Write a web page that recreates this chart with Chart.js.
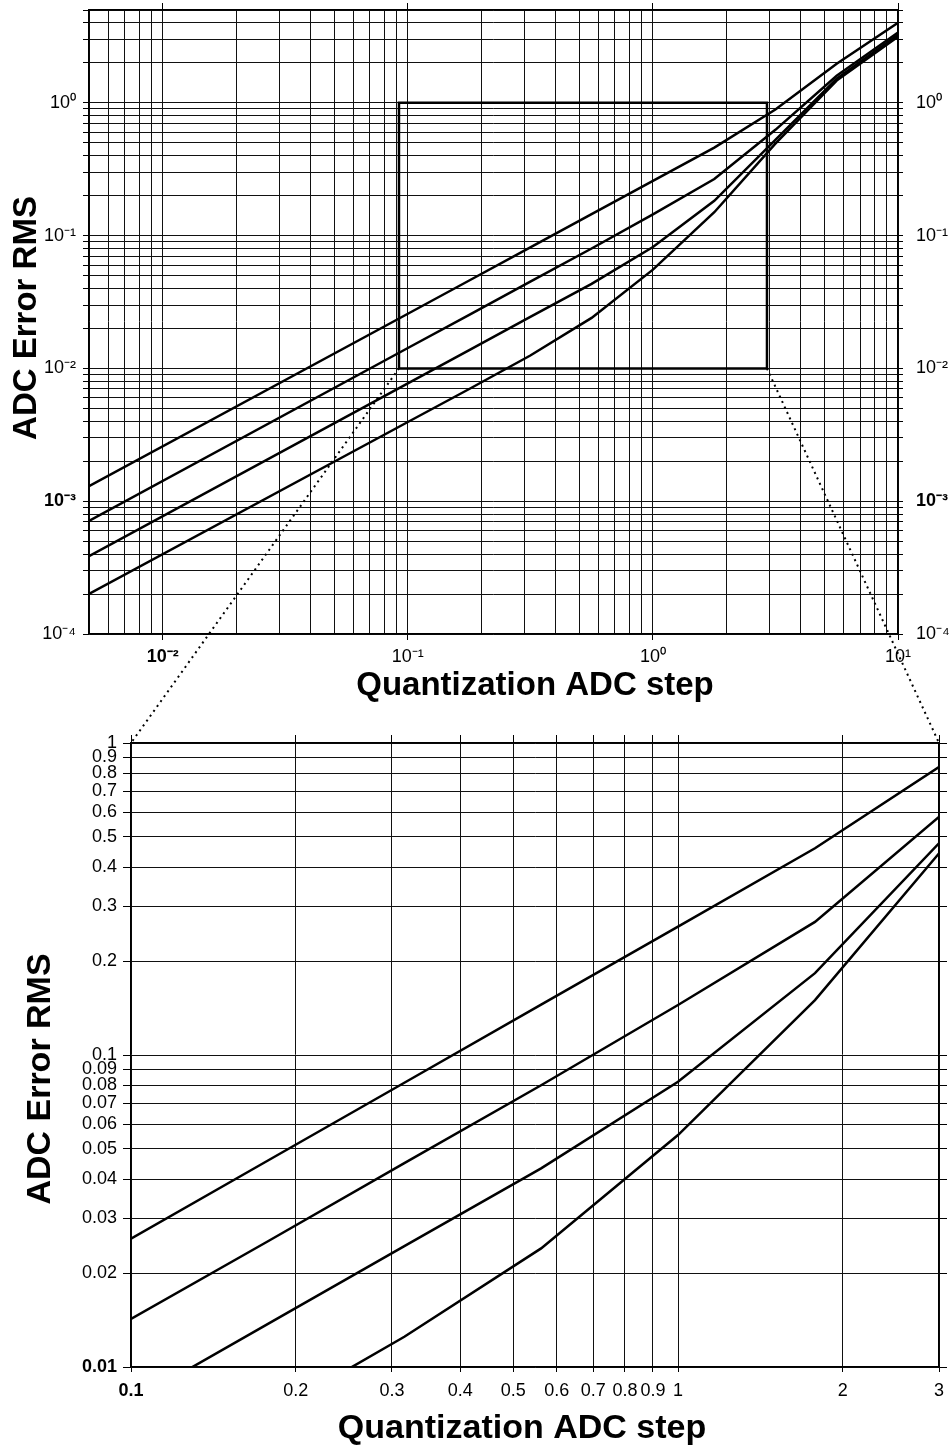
<!DOCTYPE html>
<html>
<head>
<meta charset="utf-8">
<script src="https://cdn.jsdelivr.net/npm/chart.js@4.4.1/dist/chart.umd.min.js"></script>
<style>
  html, body { margin: 0; padding: 0; background: #fff; }
  #wrap { position: relative; width: 951px; height: 1450px; }
  canvas { position: absolute; left: 0; }
  #topChart { top: 0; }
  #bottomChart { top: 720px; }
  #links { top: 0; pointer-events: none; }
</style>
</head>
<body>
<div id="wrap">
  <canvas id="topChart" width="951" height="720"></canvas>
  <canvas id="bottomChart" width="951" height="730"></canvas>
  <canvas id="links" width="951" height="1450"></canvas>
</div>
<script>
// quantization step (x) and RMS error of the four curves
var steps = [0.005, 0.1, 0.178, 0.316, 0.562, 1, 1.78, 3.16, 5.62, 10];
var errA = [0.00130, 0.0258, 0.0459, 0.0815, 0.145, 0.258, 0.460, 0.89, 1.97, 4.00];
var errB = [0.00071, 0.01425, 0.0253, 0.0450, 0.0800, 0.1446, 0.267, 0.626, 1.60, 3.38];
var errC = [0.000386, 0.00772, 0.01375, 0.0244, 0.0433, 0.0821, 0.183, 0.525, 1.52, 3.25];
var errD = [0.000200, 0.00395, 0.0070, 0.0125, 0.0240, 0.0554, 0.150, 0.493, 1.47, 3.15];

// zoom window drawn on the top plot
var zoomBoxX = [0.092, 0.092, 2.92, 2.92, 0.092];
var zoomBoxY = [0.01, 1, 1, 0.01, 0.01];

// axes
var topXRange = [0.005, 10];
var topYRange = [0.0001, 5];
var topXLabels = [0.01, 0.1, 1, 10];
var topYLabels = [0.0001, 0.001, 0.01, 0.1, 1];
var bottomXTicks = [0.1, 0.2, 0.3, 0.4, 0.5, 0.6, 0.7, 0.8, 0.9, 1, 2, 3];
var bottomYTicks = [0.01, 0.02, 0.03, 0.04, 0.05, 0.06, 0.07, 0.08, 0.09,
                    0.1, 0.2, 0.3, 0.4, 0.5, 0.6, 0.7, 0.8, 0.9, 1];

Chart.defaults.font.family = "'Liberation Sans', Arial, sans-serif";
Chart.defaults.color = '#000';

var gridColor = '#111';
var sup = { '-': '\u207B', '0': '\u2070', '1': '\u00B9', '2': '\u00B2', '3': '\u00B3', '4': '\u2074' };

function has(list, v) {
    return list.some(function(t) { return Math.abs(t - v) / t < 1e-6; });
}

// 1..9 x 10^n grid between min and max
function logGrid(min, max) {
    var out = [];
    for (var e = Math.floor(Math.log10(min)); e <= Math.ceil(Math.log10(max)); e++) {
        for (var m = 1; m <= 9; m++) {
            var v = parseFloat((m * Math.pow(10, e)).toPrecision(3));
            if (v >= min * 0.9999 && v <= max * 1.0001) out.push(v);
        }
    }
    return out;
}

function powLabel(v) {
    var e = String(Math.round(Math.log10(v)));
    return '10' + e.split('').map(function(ch) { return sup[ch]; }).join('');
}

function makeTitles(items) {
    return {
        id: 'axisTitles',
        afterDraw: function(chart) {
            var ctx = chart.ctx;
            items.forEach(function(t) {
                ctx.save();
                ctx.font = 'bold ' + t.size + "px 'Liberation Sans', Arial, sans-serif";
                ctx.fillStyle = '#000';
                ctx.textAlign = 'center';
                ctx.textBaseline = 'alphabetic';
                ctx.translate(t.x, t.y);
                if (t.rotate) ctx.rotate(t.rotate);
                ctx.fillText(t.text, 0, 0);
                ctx.restore();
            });
        }
    };
}

function series(ys) {
    return steps.map(function(x, i) { return { x: x, y: ys[i] }; });
}

function curveSets() {
    return [errA, errB, errC, errD].map(function(ys) {
        return { data: series(ys), borderColor: '#000', borderWidth: 2.5, pointRadius: 0, fill: false, tension: 0 };
    });
}

function logAxis(opts) {
    var tickValues = opts.ticks;
    var labelled = opts.labelled;
    return {
        type: 'logarithmic',
        position: opts.position,
        min: opts.min,
        max: opts.max,
        afterBuildTicks: function(scale) {
            scale.ticks = tickValues.map(function(v) { return { value: v, major: has(labelled, v) }; });
        },
        afterFit: function(scale) {
            if (opts.width !== undefined) scale.width = opts.width;
            if (opts.height !== undefined) scale.height = opts.height;
            scale.paddingLeft = scale.paddingRight = scale.paddingTop = scale.paddingBottom = 0;
        },
        border: { display: true, color: '#000', width: 1.5 },
        grid: {
            color: gridColor,
            lineWidth: 1,
            drawOnChartArea: opts.drawGrid,
            tickLength: opts.tickLength,
            tickColor: function(c) {
                if (opts.majorTicksOnly) return c.tick && c.tick.major ? '#000' : 'rgba(0,0,0,0)';
                return '#000';
            }
        },
        ticks: {
            display: opts.showLabels,
            autoSkip: false,
            maxRotation: 0,
            minRotation: 0,
            padding: opts.padding,
            font: function(c) {
                var b = c.tick && has(opts.bold || [], c.tick.value);
                return { size: 18, weight: b ? 'bold' : 'normal' };
            },
            callback: function(value) {
                if (!has(labelled, value)) return '';
                return opts.format(value);
            }
        }
    };
}

var topXGrid = logGrid(topXRange[0], topXRange[1]);
var topYGrid = logGrid(topYRange[0], topYRange[1]);

var topSets = curveSets();
topSets.push({
    data: zoomBoxX.map(function(x, i) { return { x: x, y: zoomBoxY[i] }; }),
    borderColor: '#000', borderWidth: 2.5, pointRadius: 0, fill: false, tension: 0
});

var topChart = new Chart(document.getElementById('topChart'), {
    type: 'line',
    data: { datasets: topSets },
    options: {
        responsive: false,
        animation: false,
        devicePixelRatio: 1,
        layout: { padding: 0 },
        plugins: { legend: { display: false }, tooltip: { enabled: false } },
        scales: {
            x: logAxis({ position: 'bottom', min: topXRange[0], max: topXRange[1], ticks: topXGrid,
                labelled: topXLabels, format: powLabel, height: 86, drawGrid: true, tickLength: 6,
                majorTicksOnly: true, showLabels: true, padding: 6, bold: [0.01] }),
            x2: logAxis({ position: 'top', min: topXRange[0], max: topXRange[1], ticks: topXGrid,
                labelled: topXLabels, format: powLabel, height: 10, drawGrid: false, tickLength: 7,
                majorTicksOnly: true, showLabels: false, padding: 0 }),
            y: logAxis({ position: 'left', min: topYRange[0], max: topYRange[1], ticks: topYGrid,
                labelled: topYLabels, format: powLabel, width: 89, drawGrid: true, tickLength: 6,
                showLabels: true, padding: 7, bold: [0.001] }),
            y2: logAxis({ position: 'right', min: topYRange[0], max: topYRange[1], ticks: topYGrid,
                labelled: topYLabels, format: powLabel, width: 53, drawGrid: false, tickLength: 5,
                showLabels: true, padding: 13, bold: [0.001] })
        }
    },
    plugins: [makeTitles([
        { text: 'Quantization ADC step', size: 33, x: 535, y: 695 },
        { text: 'ADC Error RMS', size: 33, x: 36, y: 318, rotate: -Math.PI / 2 }
    ])]
});

var bottomChart = new Chart(document.getElementById('bottomChart'), {
    type: 'line',
    data: { datasets: curveSets() },
    options: {
        responsive: false,
        animation: false,
        devicePixelRatio: 1,
        layout: { padding: 0 },
        plugins: { legend: { display: false }, tooltip: { enabled: false } },
        scales: {
            x: logAxis({ position: 'bottom', min: bottomXTicks[0], max: bottomXTicks[bottomXTicks.length - 1],
                ticks: bottomXTicks, labelled: bottomXTicks, format: String, height: 83, drawGrid: true,
                tickLength: 5, showLabels: true, padding: 8, bold: [0.1] }),
            x2: logAxis({ position: 'top', min: bottomXTicks[0], max: bottomXTicks[bottomXTicks.length - 1],
                ticks: bottomXTicks, labelled: bottomXTicks, format: String, height: 23, drawGrid: false,
                tickLength: 8, showLabels: false, padding: 0 }),
            y: logAxis({ position: 'left', min: bottomYTicks[0], max: bottomYTicks[bottomYTicks.length - 1],
                ticks: bottomYTicks, labelled: bottomYTicks, format: String, width: 131, drawGrid: true,
                tickLength: 8, showLabels: true, padding: 6, bold: [0.01] }),
            y2: logAxis({ position: 'right', min: bottomYTicks[0], max: bottomYTicks[bottomYTicks.length - 1],
                ticks: bottomYTicks, labelled: bottomYTicks, format: String, width: 12, drawGrid: false,
                tickLength: 8, showLabels: false, padding: 0 })
        }
    },
    plugins: [makeTitles([
        { text: 'Quantization ADC step', size: 34, x: 522, y: 718 },
        { text: 'ADC Error RMS', size: 34, x: 50, y: 359, rotate: -Math.PI / 2 }
    ])]
});

// dotted connectors from the zoom window to the corners of the lower plot
function drawLinks() {
    var ctx = document.getElementById('links').getContext('2d');
    var offset = 720;
    var tx = topChart.scales.x, ty = topChart.scales.y;
    var bx = bottomChart.scales.x, by = bottomChart.scales.y;
    var pairs = [[zoomBoxX[0], bx.min], [zoomBoxX[2], bx.max]];
    ctx.save();
    ctx.strokeStyle = '#000';
    ctx.lineWidth = 2;
    ctx.setLineDash([2, 4]);
    pairs.forEach(function(p) {
        ctx.beginPath();
        ctx.moveTo(tx.getPixelForValue(p[0]), ty.getPixelForValue(zoomBoxY[0]));
        ctx.lineTo(bx.getPixelForValue(p[1]), by.getPixelForValue(by.max) + offset);
        ctx.stroke();
    });
    ctx.restore();
}
drawLinks();
</script>
</body>
</html>
